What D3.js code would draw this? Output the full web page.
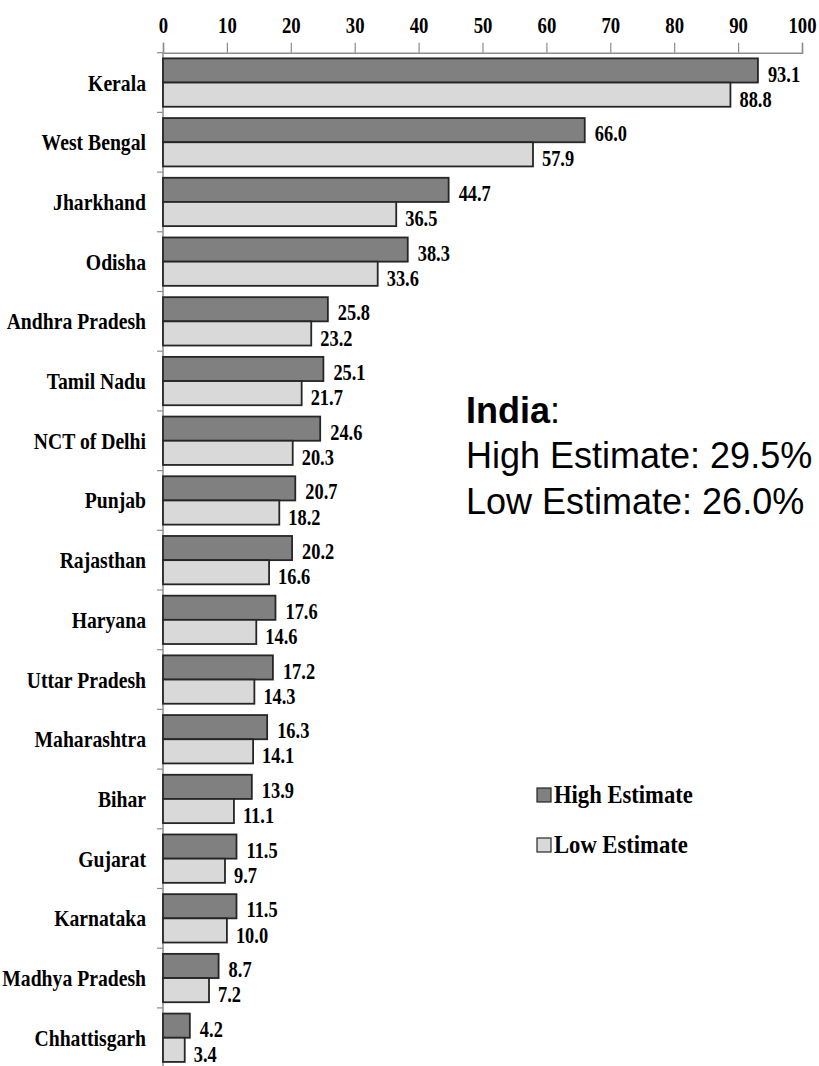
<!DOCTYPE html>
<html>
<head>
<meta charset="utf-8">
<script src="https://cdn.jsdelivr.net/npm/d3@7"></script>
<style>
  body { margin: 0; background: #fff; overflow: hidden; }
  svg { display: block; }
</style>
</head>
<body>
<div id="chart"></div>
<script>
(function () {
  var width = 819;
  var height = 1066;

  // states, top to bottom
  var categories = ['Kerala', 'West Bengal', 'Jharkhand', 'Odisha', 'Andhra Pradesh',
    'Tamil Nadu', 'NCT of Delhi', 'Punjab', 'Rajasthan', 'Haryana', 'Uttar Pradesh',
    'Maharashtra', 'Bihar', 'Gujarat', 'Karnataka', 'Madhya Pradesh', 'Chhattisgarh'];
  var highValues = [93.1, 66.0, 44.7, 38.3, 25.8, 25.1, 24.6, 20.7, 20.2, 17.6, 17.2,
    16.3, 13.9, 11.5, 11.5, 8.7, 4.2];
  var lowValues = [88.8, 57.9, 36.5, 33.6, 23.2, 21.7, 20.3, 18.2, 16.6, 14.6, 14.3,
    14.1, 11.1, 9.7, 10.0, 7.2, 3.4];
  var xTicks = [0, 10, 20, 30, 40, 50, 60, 70, 80, 90, 100];
  var seriesNames = ['High Estimate', 'Low Estimate'];
  var indiaLines = ['High Estimate: 29.5%', 'Low Estimate: 26.0%'];

  var serif = '"Liberation Serif", "Times New Roman", serif';
  var sans = '"Liberation Sans", Arial, sans-serif';

  var svg = d3.select('#chart').append('svg')
        .attr('width', width)
        .attr('height', height);

  var x = d3.scaleLinear()
        .domain([0, 100])
        .range([163, 802]);

  var y = d3.scaleBand()
        .domain(categories)
        .range([52.7, 1067.6])
        .paddingInner(0.19)
        .paddingOuter(0.095);

  var sub = d3.scaleBand()
        .domain(seriesNames)
        .range([0, y.bandwidth()]);

  var fills = ['#808080', '#d9d9d9'];

  // top axis
  var xAxis = d3.axisTop(x)
        .tickValues(xTicks)
        .tickSize(10)
        .tickSizeOuter(10)
        .tickPadding(10);

  var gx = svg.append('g')
        .attr('transform', 'translate(0,52.7)')
        .call(xAxis);
  gx.select('.domain').attr('stroke', '#8c8c8c').attr('stroke-width', 1.5);
  gx.selectAll('.tick line').attr('stroke', '#8c8c8c').attr('stroke-width', 1.2);
  gx.selectAll('.tick text')
    .attr('fill', '#000')
    .style('font-family', serif)
    .style('font-weight', 'bold')
    .style('font-size', '24px')
    .attr('transform', 'scale(0.78,1)');

  // left axis line with ticks at the band boundaries
  var boundary = function (d) {
    return y(d) - (y.step() - y.bandwidth()) / 2;
  };

  svg.append('line')
    .attr('x1', x(0)).attr('x2', x(0))
    .attr('y1', y.range()[0]).attr('y2', y.range()[1])
    .attr('stroke', '#8c8c8c')
    .attr('stroke-width', 1.5);

  svg.selectAll('.ytick')
    .data(categories)
    .enter()
    .append('line')
    .attr('class', 'ytick')
    .attr('x1', x(0) - 6).attr('x2', x(0))
    .attr('y1', boundary).attr('y2', boundary)
    .attr('stroke', '#8c8c8c')
    .attr('stroke-width', 1.2);

  // category labels
  svg.selectAll('.cat')
    .data(categories)
    .enter()
    .append('text')
    .attr('class', 'cat')
    .attr('transform', function (d) {
      return 'translate(146,' + (y(d) + y.bandwidth() / 2 + 8) + ') scale(0.82,1)';
    })
    .attr('text-anchor', 'end')
    .style('font-family', serif)
    .style('font-weight', 'bold')
    .style('font-size', '24px')
    .text(function (d) { return d; });

  // bars
  var rows = categories.map(function (c, i) {
    return { cat: c, vals: [highValues[i], lowValues[i]] };
  });

  var groups = svg.selectAll('.row')
        .data(rows)
        .enter()
        .append('g')
        .attr('class', 'row')
        .attr('transform', function (d) { return 'translate(0,' + y(d.cat) + ')'; });

  groups.selectAll('rect')
    .data(function (d) {
      return d.vals.map(function (v, k) { return { v: v, k: k }; });
    })
    .enter()
    .append('rect')
    .attr('x', x(0))
    .attr('y', function (d) { return sub(seriesNames[d.k]); })
    .attr('width', function (d) { return x(d.v) - x(0); })
    .attr('height', sub.bandwidth())
    .attr('fill', function (d) { return fills[d.k]; })
    .attr('stroke', '#262626')
    .attr('stroke-width', 1.8);

  groups.selectAll('.val')
    .data(function (d) {
      return d.vals.map(function (v, k) { return { v: v, k: k }; });
    })
    .enter()
    .append('text')
    .attr('class', 'val')
    .attr('transform', function (d) {
      var ty = sub(seriesNames[d.k]) + sub.bandwidth() - (d.k === 0 ? 1 : 0);
      var tx = x(d.v) + (d.k === 0 ? 10 : 9);
      return 'translate(' + tx + ',' + ty + ') scale(0.8,1)';
    })
    .style('font-family', serif)
    .style('font-weight', 'bold')
    .style('font-size', '23px')
    .text(function (d) { return d.v.toFixed(1); });

  // legend
  var legend = svg.selectAll('.legend')
        .data(seriesNames)
        .enter()
        .append('g')
        .attr('class', 'legend')
        .attr('transform', function (d, i) { return 'translate(537,' + (788 + i * 50) + ')'; });

  legend.append('rect')
    .attr('width', 14)
    .attr('height', 14)
    .attr('fill', function (d, i) { return fills[i]; })
    .attr('stroke', '#262626')
    .attr('stroke-width', 1.2);

  legend.append('text')
    .attr('transform', 'translate(17,15) scale(0.87,1)')
    .style('font-family', serif)
    .style('font-weight', 'bold')
    .style('font-size', '26px')
    .text(function (d) { return d; });

  // India note
  var note = svg.append('text')
        .attr('x', 466)
        .attr('y', 423)
        .style('font-family', sans)
        .style('font-size', '36px');
  note.append('tspan').style('font-weight', 'bold').text('India');
  note.append('tspan').text(':');

  svg.selectAll('.indiaLine')
    .data(indiaLines)
    .enter()
    .append('text')
    .attr('class', 'indiaLine')
    .attr('x', 466)
    .attr('y', function (d, i) { return 468 + i * 46; })
    .style('font-family', sans)
    .style('font-size', '36px')
    .text(function (d) { return d; });
})();
</script>
</body>
</html>
